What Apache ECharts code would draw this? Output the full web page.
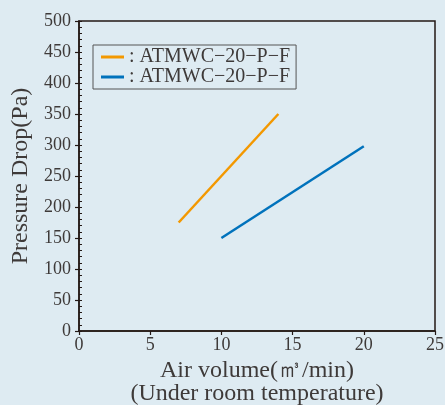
<!DOCTYPE html>
<html><head><meta charset="utf-8">
<script src="https://cdn.jsdelivr.net/npm/echarts@6/dist/echarts.min.js"></script>
<style>html,body{margin:0;padding:0;background:#deebf2;}#c{width:445px;height:405px;}</style>
</head><body><div id="c"></div>
<script>
const legendLabels = [': ATMWC\u221220\u2212P\u2212F', ': ATMWC\u221220\u2212P\u2212F'];
const seriesAX = [7, 14];
const seriesAY = [175, 350];
const seriesBX = [10, 20];
const seriesBY = [150, 298];
const colors = ['#f39800', '#0072bc'];
const xTitle = 'Air volume(\u33a5/min)\n(Under room temperature)';
const yTitle = 'Pressure Drop(Pa)';

const font = '"Liberation Serif", "DejaVu Serif", serif';
const txt = '#3e3a39';
const ax = '#231815';
const chart = echarts.init(document.getElementById('c'));
chart.setOption({
  backgroundColor: '#deebf2',
  animation: false,
  grid: {left: 79, right: 10, top: 21, bottom: 74, show: true, borderColor: ax, borderWidth: 1.5, backgroundColor: 'transparent', outerBoundsMode: 'none', containLabel: false},
  legend: {
    left: 93, top: 45, orient: 'vertical', itemGap: 0,
    borderColor: '#555', borderWidth: 1, padding: [2, 6, 2, 8],
    backgroundColor: '#deebf2',
    itemWidth: 23, itemHeight: 3, icon: 'rect',
    data: ['A', 'B'],
    formatter: n => legendLabels[n === 'A' ? 0 : 1],
    textStyle: {fontFamily: font, fontSize: 20, color: txt, lineHeight: 20}
  },
  xAxis: {
    type: 'value', min: 0, max: 25, interval: 5,
    name: xTitle, nameLocation: 'middle', nameGap: 27,
    nameTextStyle: {fontFamily: font, fontSize: 24, color: txt, lineHeight: 23, verticalAlign: 'top'},
    axisLine: {lineStyle: {color: ax, width: 1.5}},
    axisTick: {show: true, length: 4, lineStyle: {color: ax, width: 1.2}},
    axisLabel: {fontFamily: font, fontSize: 18, color: txt, margin: 5},
    splitLine: {show: false}
  },
  yAxis: [{
    type: 'value', min: 0, max: 500, interval: 50,
    name: yTitle, nameLocation: 'middle', nameGap: 43, nameRotate: 90,
    nameTextStyle: {fontFamily: font, fontSize: 24, color: txt},
    axisLine: {lineStyle: {color: ax, width: 1.5}},
    axisTick: {show: true, length: 4, lineStyle: {color: ax, width: 1.2}},
    axisLabel: {fontFamily: font, fontSize: 18, color: txt, margin: 8},
    splitLine: {show: false}
  }, {
    type: 'value', min: 0, max: 500, interval: 10, position: 'left',
    axisLine: {show: false},
    axisTick: {show: true, inside: true, length: 3, lineStyle: {color: ax, width: 1}},
    axisLabel: {show: false},
    splitLine: {show: false}
  }],
  series: [
    {name: 'A', type: 'line', data: seriesAX.map((x, i) => [x, seriesAY[i]]), showSymbol: false, symbol: 'none', lineStyle: {color: colors[0], width: 2.5}, itemStyle: {color: colors[0]}},
    {name: 'B', type: 'line', data: seriesBX.map((x, i) => [x, seriesBY[i]]), showSymbol: false, symbol: 'none', lineStyle: {color: colors[1], width: 2.5}, itemStyle: {color: colors[1]}}
  ]
});
</script></body></html>
